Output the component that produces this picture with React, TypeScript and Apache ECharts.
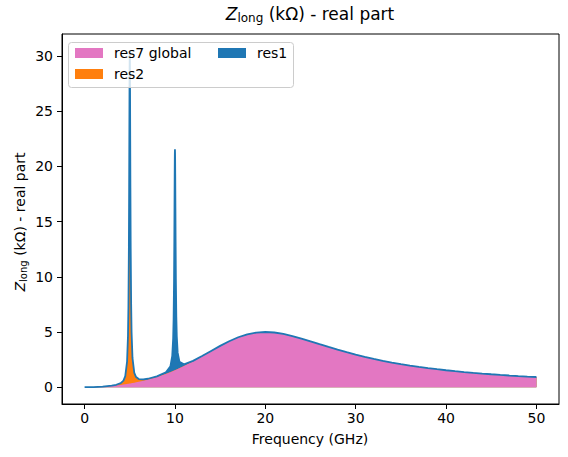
import React, { useEffect, useRef } from "react";
import * as echarts from "echarts";

// Frequency grid (GHz)
const freq = [
  0, 0.5, 1, 2, 3, 3.5, 4, 4.3, 4.5, 4.7,
  4.8, 4.85, 4.9, 4.93, 4.95, 4.97, 4.98, 4.99, 5, 5.01,
  5.02, 5.03, 5.05, 5.07, 5.1, 5.15, 5.2, 5.3, 5.5, 5.7,
  6, 6.5, 7, 8, 9, 9.5,
  9.7, 9.8, 9.85, 9.9, 9.93, 9.95, 9.97, 9.98, 9.99, 10,
  10.01, 10.02, 10.03, 10.05, 10.07, 10.1, 10.15, 10.2, 10.3, 10.5,
  11, 12, 13, 14, 15, 16, 17, 18, 19, 20,
  21, 22, 23, 24, 25, 26, 27, 28, 29, 30,
  31, 32, 33, 34, 35, 36, 37, 38, 39, 40,
  41, 42, 43, 44, 45, 46, 47, 48, 49, 50,
];

// res7 global (broadband) real part, kOhm
const res7 = [
  0, 0.003, 0.0125, 0.0505, 0.115, 0.158, 0.208, 0.242, 0.266, 0.291,
  0.305, 0.312, 0.318, 0.323, 0.325, 0.328, 0.33, 0.331, 0.332, 0.333,
  0.335, 0.336, 0.339, 0.342, 0.346, 0.353, 0.36, 0.376, 0.407, 0.44,
  0.49, 0.583, 0.686, 0.924, 1.208, 1.367,
  1.435, 1.47, 1.486, 1.503, 1.514, 1.521, 1.528, 1.531, 1.535, 1.538,
  1.541, 1.545, 1.548, 1.555, 1.562, 1.573, 1.59, 1.607, 1.645, 1.722,
  1.917, 2.339, 2.795, 3.266, 3.731, 4.158, 4.519, 4.787, 4.948, 5.0,
  4.953, 4.824, 4.636, 4.408, 4.158, 3.901, 3.647, 3.401, 3.169, 2.951,
  2.749, 2.563, 2.392, 2.236, 2.093, 1.962, 1.842, 1.732, 1.631, 1.538,
  1.453, 1.375, 1.302, 1.236, 1.174, 1.116, 1.063, 1.013, 0.967, 0.924,
];

// res2 (narrow, 5 GHz)
const res2 = [
  0, 0.0003, 0.0015, 0.0076, 0.0293, 0.0627, 0.164, 0.359, 0.73, 2.03,
  4.29, 6.91, 12.15, 17.5, 22.0, 26.5, 28.36, 29.57, 30, 29.57,
  28.37, 26.58, 22.1, 17.7, 12.44, 7.24, 4.59, 2.27, 0.887, 0.475,
  0.246, 0.118, 0.071, 0.035, 0.0215, 0.018,
  0.016, 0.016, 0.015, 0.015, 0.015, 0.015, 0.015, 0.015, 0.015, 0.015,
  0.015, 0.015, 0.015, 0.015, 0.015, 0.014, 0.014, 0.014, 0.014, 0.013,
  0.011, 0.0085, 0.007, 0.0057, 0.0047, 0.004, 0.0034, 0.003, 0.0027, 0.0024,
  0.002, 0.0018, 0.0016, 0.0015, 0.0013, 0.0012, 0.0011, 0.001, 0.001, 0.001,
  0.0009, 0.0009, 0.0008, 0.0008, 0.0007, 0.0007, 0.0006, 0.0006, 0.0006, 0.0005,
  0.0005, 0.0005, 0.0004, 0.0004, 0.0004, 0.0004, 0.0003, 0.0003, 0.0003, 0.0003,
];

// res1 (narrow, 10 GHz)
const res1 = [
  0, 0, 0.0001, 0.0002, 0.0006, 0.0009, 0.0013, 0.0016, 0.0018, 0.002,
  0.0022, 0.0023, 0.0023, 0.0024, 0.0024, 0.0024, 0.0024, 0.0024, 0.0025, 0.0025,
  0.0025, 0.0025, 0.0026, 0.0026, 0.0027, 0.0028, 0.0029, 0.0031, 0.0036, 0.0042,
  0.0049, 0.0071, 0.0105, 0.0274, 0.124, 0.514,
  1.393, 2.91, 4.66, 8.15, 11.69, 14.69, 17.7, 18.91, 19.72, 20,
  19.72, 18.91, 17.71, 14.73, 11.76, 8.24, 4.77, 3.01, 1.472, 0.566,
  0.151, 0.041, 0.0197, 0.0118, 0.008, 0.0058, 0.0045, 0.0036, 0.003, 0.0025,
  0.0021, 0.0018, 0.0016, 0.0014, 0.0013, 0.0011, 0.001, 0.0009, 0.0008, 0.0008,
  0.0007, 0.0007, 0.0006, 0.0006, 0.0005, 0.0005, 0.0005, 0.0005, 0.0004, 0.0004,
  0.0004, 0.0004, 0.0003, 0.0003, 0.0003, 0.0003, 0.0003, 0.0003, 0.0002, 0.0002,
];

const xTicks = [0, 10, 20, 30, 40, 50];
const yTicks = [0, 5, 10, 15, 20, 25, 30];

const PINK = "#e377c2";
const ORANGE = "#ff7f0e";
const BLUE = "#1f77b4";
const FONT = "DejaVu Sans";

export default function App() {
  const ref = useRef<HTMLDivElement>(null);

  useEffect(() => {
    if (!ref.current) return;
    const chart = echarts.init(ref.current, undefined, { renderer: "svg" });

    const base = freq.map((f, i) => [f, res7[i]]);
    const mid = freq.map((f, i) => [f, res7[i] + res2[i]]);
    const total = freq.map((f, i) => [f, res7[i] + res2[i] + res1[i]]);

    const hiddenLine = { opacity: 0, width: 0 };

    chart.setOption({
      animation: false,
      grid: {
        left: 62,
        right: 9,
        top: 34,
        bottom: 53,
        show: true,
        borderColor: "#000",
        borderWidth: 1,
        backgroundColor: "transparent",
      },
      xAxis: {
        type: "value",
        min: -2.5,
        max: 52.5,
        axisLine: { show: true, onZero: false, lineStyle: { color: "#000", width: 1 } },
        axisTick: { show: true, inside: false, length: 5, lineStyle: { color: "#000" }, customValues: xTicks },
        axisLabel: { show: true, customValues: xTicks, margin: 7, color: "#000", fontSize: 14, fontFamily: FONT },
        splitLine: { show: false },
      },
      yAxis: {
        type: "value",
        min: -1.52,
        max: 32,
        axisLine: { show: true, onZero: false, lineStyle: { color: "#000", width: 1 } },
        axisTick: { show: true, inside: false, length: 5, lineStyle: { color: "#000" }, customValues: yTicks },
        axisLabel: { show: true, customValues: yTicks, margin: 9, color: "#000", fontSize: 14, fontFamily: FONT },
        splitLine: { show: false },
      },
      legend: [
        {
          orient: "vertical",
          left: 75,
          top: 45,
          padding: 0,
          itemWidth: 28,
          itemHeight: 10,
          itemGap: 5,
          z: 12,
          selectedMode: false,
          textStyle: { fontSize: 14, fontFamily: FONT, color: "#000", lineHeight: 16, padding: [0, 0, 0, 6] },
          data: [
            { name: "res7 global", icon: "rect", itemStyle: { color: PINK, opacity: 1 } },
            { name: "res2", icon: "rect", itemStyle: { color: ORANGE, opacity: 1 } },
          ],
        },
        {
          orient: "vertical",
          left: 218,
          top: 45,
          padding: 0,
          itemWidth: 28,
          itemHeight: 10,
          itemGap: 5,
          z: 12,
          selectedMode: false,
          textStyle: { fontSize: 14, fontFamily: FONT, color: "#000", lineHeight: 16, padding: [0, 0, 0, 6] },
          data: [{ name: "res1", icon: "rect", itemStyle: { color: BLUE, opacity: 1 } }],
        },
      ],
      graphic: [
        {
          type: "rect",
          z: 10,
          shape: { x: 68.5, y: 42.5, width: 225, height: 45, r: 3 },
          style: { fill: "rgba(255,255,255,0.8)", stroke: "#cccccc", lineWidth: 1 },
        },
        {
          type: "text",
          x: 310,
          y: 14,
          z: 12,
          style: {
            text: "{i|Z}{s|long}{n| (kΩ) - real part}",
            align: "center",
            verticalAlign: "middle",
            rich: {
              i: { fontSize: 17, fontStyle: "italic", fontFamily: FONT, fill: "#000", lineHeight: 20, verticalAlign: "middle" },
              s: { fontSize: 12, fontFamily: FONT, fill: "#000", lineHeight: 12, verticalAlign: "bottom", padding: [0, 0, 0, 0] },
              n: { fontSize: 17, fontFamily: FONT, fill: "#000", lineHeight: 20, verticalAlign: "middle" },
            },
          },
        },
        {
          type: "text",
          x: 20,
          y: 222,
          rotation: Math.PI / 2,
          z: 12,
          style: {
            text: "{i|Z}{s|long}{n| (kΩ) - real part}",
            align: "center",
            verticalAlign: "middle",
            rich: {
              i: { fontSize: 14, fontStyle: "italic", fontFamily: FONT, fill: "#000", lineHeight: 17, verticalAlign: "middle" },
              s: { fontSize: 10, fontFamily: FONT, fill: "#000", lineHeight: 10, verticalAlign: "bottom" },
              n: { fontSize: 14, fontFamily: FONT, fill: "#000", lineHeight: 17, verticalAlign: "middle" },
            },
          },
        },
        {
          type: "text",
          x: 310,
          y: 439,
          z: 12,
          style: {
            text: "Frequency (GHz)",
            align: "center",
            verticalAlign: "middle",
            fontSize: 14,
            fontFamily: FONT,
            fill: "#000",
          },
        },
      ],
      series: [
        {
          name: "res1",
          type: "line",
          data: total,
          color: BLUE,
          showSymbol: false,
          symbol: "none",
          lineStyle: hiddenLine,
          areaStyle: { color: BLUE, opacity: 1 },
          z: 2,
        },
        {
          name: "res2",
          type: "line",
          data: mid,
          color: ORANGE,
          showSymbol: false,
          symbol: "none",
          lineStyle: hiddenLine,
          areaStyle: { color: ORANGE, opacity: 1 },
          z: 2,
        },
        {
          name: "res7 global",
          type: "line",
          data: base,
          color: PINK,
          showSymbol: false,
          symbol: "none",
          lineStyle: hiddenLine,
          areaStyle: { color: PINK, opacity: 1 },
          z: 2,
        },
        {
          name: "total",
          type: "line",
          data: total,
          color: BLUE,
          showSymbol: false,
          symbol: "none",
          lineStyle: { color: BLUE, width: 1.8 },
          z: 3,
        },
      ],
    });

    return () => chart.dispose();
  }, []);

  return (
    <div
      ref={ref}
      style={{ position: "fixed", left: 0, top: 0, width: 568, height: 457, background: "#fff" }}
    />
  );
}
